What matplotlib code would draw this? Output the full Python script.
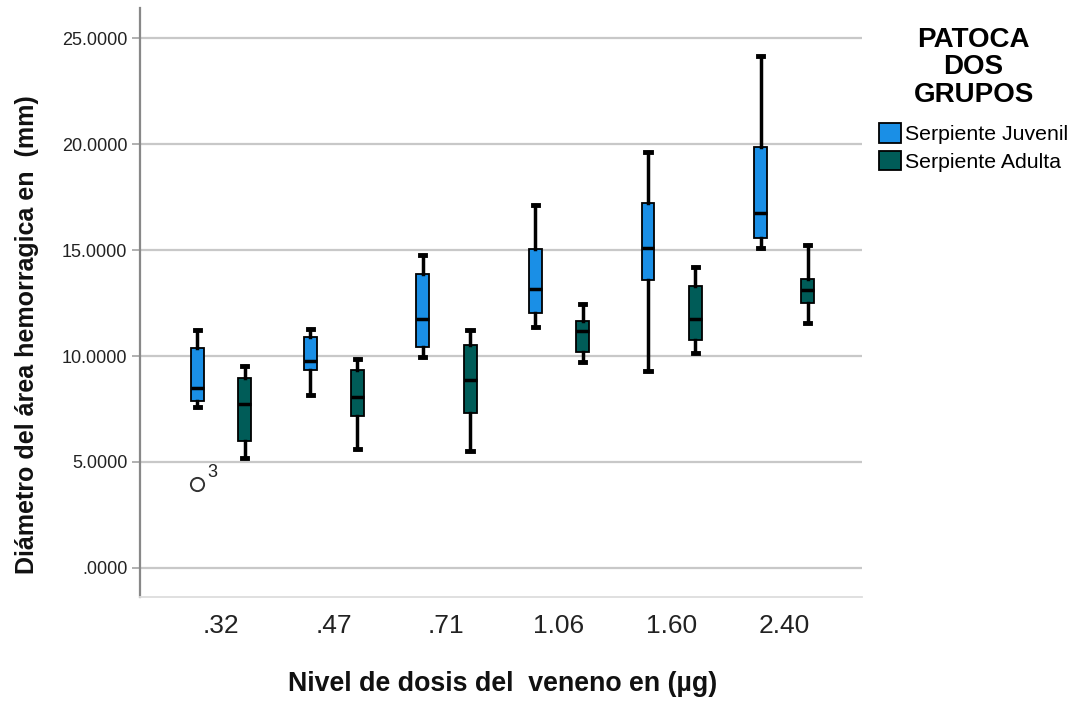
import matplotlib
matplotlib.use("Agg")
import matplotlib.pyplot as plt
from matplotlib.patches import Patch

# ---- data ----
doses = [".32", ".47", ".71", "1.06", "1.60", "2.40"]
groups = ["Serpiente Juvenil", "Serpiente Adulta"]

juv_whislo = [7.58, 8.16, 9.97, 11.38, 9.28, 15.08]
juv_q1     = [7.88, 9.34, 10.41, 12.04, 13.57, 15.58]
juv_med    = [8.50, 9.76, 11.76, 13.16, 15.11, 16.73]
juv_q3     = [10.39, 10.91, 13.85, 15.03, 17.23, 19.87]
juv_whishi = [11.23, 11.26, 14.76, 17.14, 19.62, 24.17]
juv_fliers = [[3.95], [], [], [], [], []]
juv_flier_ids = [["3"], [], [], [], [], []]

adu_whislo = [5.20, 5.61, 5.52, 9.73, 10.12, 11.54]
adu_q1     = [5.99, 7.17, 7.30, 10.20, 10.75, 12.52]
adu_med    = [7.74, 8.08, 8.85, 11.20, 11.76, 13.11]
adu_q3     = [8.95, 9.32, 10.52, 11.67, 13.30, 13.62]
adu_whishi = [9.54, 9.86, 11.23, 12.45, 14.21, 15.24]
adu_fliers = [[], [], [], [], [], []]

yticks = [0, 5, 10, 15, 20, 25]
ytick_labels = [".0000", "5.0000", "10.0000", "15.0000", "20.0000", "25.0000"]

colors = ["#1a8fe6", "#005c58"]

W, H = 1073, 705
fig = plt.figure(figsize=(W / 100, H / 100), dpi=100)
ax = fig.add_axes([140 / W, 1 - 597 / H, (862 - 140) / W, (597 - 8) / H])

def stats(wlo, q1, med, q3, whi, fl):
    return [dict(whislo=a, q1=b, med=c, q3=d, whishi=e, fliers=f)
            for a, b, c, d, e, f in zip(wlo, q1, med, q3, whi, fl)]

series = [
    stats(juv_whislo, juv_q1, juv_med, juv_q3, juv_whishi, juv_fliers),
    stats(adu_whislo, adu_q1, adu_med, adu_q3, adu_whishi, adu_fliers),
]
offsets = [-0.21, 0.21]

for s, off, col in zip(series, offsets, colors):
    pos = [i + off for i in range(len(doses))]
    ax.bxp(s, positions=pos, widths=0.115, patch_artist=True,
           showfliers=True, manage_ticks=False, capwidths=0.045,
           boxprops=dict(facecolor=col, edgecolor="black", linewidth=1.3),
           medianprops=dict(color="black", linewidth=2.5),
           whiskerprops=dict(color="black", linewidth=2.5),
           capprops=dict(color="black", linewidth=3.5),
           flierprops=dict(marker="o", markersize=9.5, markerfacecolor="none",
                           markeredgecolor="#333333", markeredgewidth=1.4),
           zorder=3)

# outlier case labels
for i, (fl, ids) in enumerate(zip(juv_fliers, juv_flier_ids)):
    for v, t in zip(fl, ids):
        ax.annotate(t, (i + offsets[0], v), xytext=(7, 5), textcoords="offset points",
                    fontsize=13, color="#222222", family="Liberation Sans")

ax.set_xlim(-0.72, 5.69)
ax.set_ylim(-1.37, 26.42)
ax.set_yticks(yticks)
ax.set_yticklabels(ytick_labels, family="Liberation Sans", fontsize=13, color="#222222")
ax.set_xticks(range(len(doses)))
ax.set_xticklabels(doses, family="Liberation Sans", fontsize=19, color="#222222")
ax.tick_params(axis="x", length=0, pad=12)
ax.tick_params(axis="y", length=6, width=1.3, color="#aaaaaa", pad=3)
ax.grid(axis="y", color="#c8c8c8", linewidth=1.6, zorder=0)
ax.set_axisbelow(True)
for sp in ["top", "right"]:
    ax.spines[sp].set_visible(False)
ax.spines["left"].set_color("#888888")
ax.spines["left"].set_linewidth(1.6)
ax.spines["bottom"].set_color("#dddddd")
ax.spines["bottom"].set_linewidth(1.3)

fig.text(503 / W, 1 - 684 / H, "Nivel de dosis del  veneno en (\u00b5g)", ha="center", va="center",
         fontsize=19.3, family="Liberation Sans", color="#111111", weight="bold")
fig.text(27 / W, 1 - 335 / H, "Di\u00e1metro del \u00e1rea hemorragica en  (mm)", ha="center",
         va="center", rotation=90, fontsize=18, family="Liberation Sans",
         color="#111111", weight="bold")

handles = [Patch(facecolor=c, edgecolor="black", linewidth=1.3, label=g)
           for c, g in zip(colors, groups)]
leg = fig.legend(handles=handles, loc="upper left", bbox_to_anchor=(866 / W, 1 - 14 / H),
                 frameon=False, title="PATOCA\nDOS\nGRUPOS",
                 prop=dict(family="Liberation Sans", size=15.3),
                 handlelength=1.05, handleheight=1.05, handletextpad=0.2,
                 labelspacing=0.3, borderpad=0.1, alignment="center")
t = leg.get_title()
t.set_fontproperties(dict(family="Liberation Sans", size=20, weight="bold"))
t.set_linespacing(1.08)
t.set_multialignment("center")
leg._legend_box.sep = 11

fig.savefig("out.png", dpi=100)
